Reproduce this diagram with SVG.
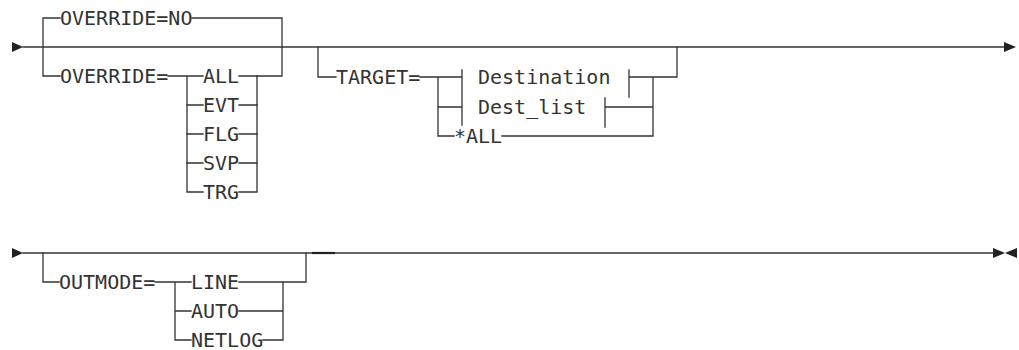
<svg xmlns="http://www.w3.org/2000/svg" width="1019" height="350" viewBox="0 0 1019 350">
<style>
.ln{fill:none;stroke:#333;stroke-width:1.3;stroke-linecap:square}
.t{font-family:"DejaVu Sans Mono","Liberation Mono",monospace;font-size:20px;fill:#333}
.ar{fill:#222}
</style>
<rect width="1019" height="350" fill="#fff"/>
<g id="connectors">
<path class="ln" d="M23 47H1004"/>
<path class="ln" d="M43 47V18H60M192 18H282V76M43 47V76H60M168 76H203M187 76V192H203M239 192H257V76H282"/>
<path class="ln" d="M187 105H203M239 105H257M187 134H203M239 134H257M187 163H203M239 163H257M239 76H257"/>
<path class="ln" d="M318 47V77H336M420 77H438V136H454M502 136H653V77M438 107H462M438 77H462M462 70V125M629 70V97M629 77H677V47M605 98V127M605 107H653"/>
<path class="ln" d="M23 253H993"/>
<path class="ln" d="M43 253V282H59M155 282H191M175 282V340H191M263 340H283V282H306V253M175 311H191M239 311H283M239 282H283"/>
<path d="M312 253H335" fill="none" stroke="#222" stroke-width="2.2"/>
<polygon class="ar" points="12,42 23,47 12,52"/>
<polygon class="ar" points="1004,42 1016,47 1004,52"/>
<polygon class="ar" points="12,248 23,253 12,258"/>
<polygon class="ar" points="993,248 1005,253 993,258"/>
<polygon class="ar" points="1017,248 1005,253 1017,258"/>
</g>
<g id="override-no"><text class="t" x="60" y="25">OVERRIDE=NO</text></g>
<g id="override"><text class="t" x="60" y="83">OVERRIDE=</text></g>
<g id="all"><text class="t" x="203" y="83">ALL</text></g>
<g id="evt"><text class="t" x="203" y="112">EVT</text></g>
<g id="flg"><text class="t" x="203" y="141">FLG</text></g>
<g id="svp"><text class="t" x="203" y="170">SVP</text></g>
<g id="trg"><text class="t" x="203" y="199">TRG</text></g>
<g id="target"><text class="t" x="336" y="84">TARGET=</text></g>
<g id="destination"><text class="t" x="478" y="84">Destination</text></g>
<g id="dest-list"><text class="t" x="478" y="114">Dest_list</text></g>
<g id="star-all"><text class="t" x="454" y="143">*ALL</text></g>
<g id="outmode"><text class="t" x="59" y="289">OUTMODE=</text></g>
<g id="line"><text class="t" x="191" y="289">LINE</text></g>
<g id="auto"><text class="t" x="191" y="318">AUTO</text></g>
<g id="netlog"><text class="t" x="191" y="347">NETLOG</text></g>
</svg>
